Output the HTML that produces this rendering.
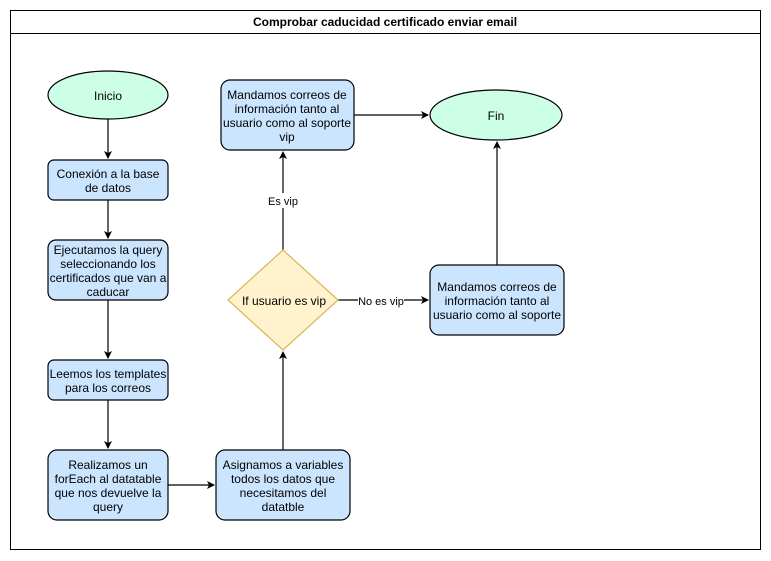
<!DOCTYPE html>
<html><head><style>
html,body{margin:0;padding:0;background:#fff;}
svg{display:block;font-family:"Liberation Sans",Arial,sans-serif;}
</style></head><body>
<svg width="771" height="561" viewBox="0 0 771 561" xmlns="http://www.w3.org/2000/svg">
<defs><marker id="a" markerWidth="10" markerHeight="10" refX="8" refY="5" orient="auto" markerUnits="userSpaceOnUse"><path d="M1,1 L9,5 L1,9 L3,5 Z" fill="#000"/></marker></defs>
<rect x="10.5" y="10.5" width="750" height="539" fill="#fff" stroke="#000"/>
<line x1="10.5" y1="33.5" x2="760.5" y2="33.5" stroke="#000"/>
<text x="385" y="26" font-size="12" font-weight="bold" text-anchor="middle">Comprobar caducidad certificado enviar email</text>
<g stroke="#000" stroke-width="1.2" fill="none">
<line x1="108" y1="119" x2="108" y2="158" marker-end="url(#a)"/>
<line x1="108" y1="200" x2="108" y2="238" marker-end="url(#a)"/>
<line x1="108" y1="300" x2="108" y2="358" marker-end="url(#a)"/>
<line x1="108" y1="400" x2="108" y2="448" marker-end="url(#a)"/>
<line x1="168" y1="485" x2="214" y2="485" marker-end="url(#a)"/>
<line x1="283" y1="450" x2="283" y2="352" marker-end="url(#a)"/>
<line x1="283" y1="250" x2="283" y2="152" marker-end="url(#a)"/>
<line x1="338" y1="300" x2="428" y2="300" marker-end="url(#a)"/>
<line x1="354" y1="115" x2="428" y2="115" marker-end="url(#a)"/>
<line x1="497" y1="265" x2="497" y2="142" marker-end="url(#a)"/>
</g>
<rect x="266" y="193" width="34" height="15" fill="#fff"/>
<text x="283" y="205" font-size="11" text-anchor="middle">Es vip</text>
<rect x="358" y="294" width="46" height="14" fill="#fff"/>
<text x="381" y="305" font-size="11" text-anchor="middle">No es vip</text>
<g stroke="#000" stroke-width="1.2">
<ellipse cx="108" cy="95" rx="60" ry="24" fill="#ccffe6"/>
<ellipse cx="496" cy="115" rx="66" ry="25" fill="#ccffe6"/>
<rect x="48" y="160" width="120" height="40" rx="6" fill="#cce5ff"/>
<rect x="48" y="240" width="120" height="60" rx="8" fill="#cce5ff"/>
<rect x="48" y="360" width="120" height="40" rx="6" fill="#cce5ff"/>
<rect x="48" y="450" width="120" height="70" rx="9" fill="#cce5ff"/>
<rect x="216" y="450" width="134" height="70" rx="9" fill="#cce5ff"/>
<rect x="221" y="80" width="133" height="70" rx="9" fill="#cce5ff"/>
<rect x="430" y="265" width="134" height="70" rx="9" fill="#cce5ff"/>
</g>
<polygon points="283,250 338,300 283,350 228,300" fill="#fff2cc" stroke="#d6b656" stroke-width="1.2"/>
<g font-size="12" text-anchor="middle" fill="#000">
<text x="108" y="100">Inicio</text>
<text x="496" y="120">Fin</text>
<text x="108" y="178">Conexión a la base</text><text x="108" y="192">de datos</text>
<text x="108" y="254">Ejecutamos la query</text><text x="108" y="268">seleccionando los</text><text x="108" y="282">certificados que van a</text><text x="108" y="296">caducar</text>
<text x="108" y="378">Leemos los templates</text><text x="108" y="392">para los correos</text>
<text x="108" y="469">Realizamos un</text><text x="108" y="483">forEach al datatable</text><text x="108" y="497">que nos devuelve la</text><text x="108" y="511">query</text>
<text x="283" y="469">Asignamos a variables</text><text x="283" y="483">todos los datos que</text><text x="283" y="497">necesitamos del</text><text x="283" y="511">datatble</text>
<text x="287" y="99">Mandamos correos de</text><text x="287" y="113">información tanto al</text><text x="287" y="127">usuario como al soporte</text><text x="287" y="141">vip</text>
<text x="497" y="291">Mandamos correos de</text><text x="497" y="305">información tanto al</text><text x="497" y="319">usuario como al soporte</text>
<text x="284" y="305">If usuario es vip</text>
</g>
</svg>
</body></html>
